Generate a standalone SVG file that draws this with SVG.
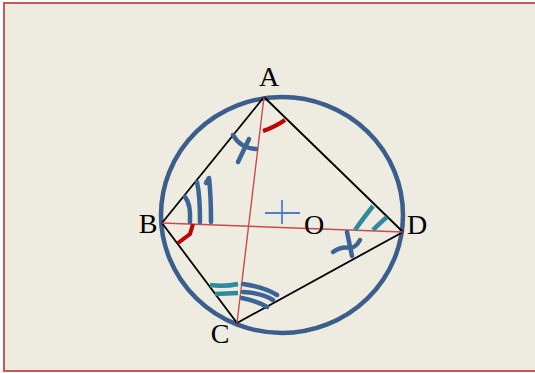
<svg xmlns="http://www.w3.org/2000/svg" width="535" height="373" viewBox="0 0 535 373">
<style>
.lbl{font-family:"Liberation Serif","Times New Roman",serif;font-size:28px;fill:#000;text-anchor:middle}
.edge{stroke:#000;stroke-width:1.8;fill:none}
.diag{stroke:#c84c4c;stroke-width:1.4;fill:none}
.blue{stroke:#3c6494;stroke-width:4.5;fill:none;stroke-linecap:round;stroke-linejoin:round}
.teal{stroke:#2f8a9c;stroke-width:4.5;fill:none;stroke-linecap:butt}
.red{stroke:#c00000;stroke-width:4;fill:none}
</style>
<rect x="4" y="3" width="540" height="368" fill="#eeebe0" stroke="#c8585a" stroke-width="2"/>
<g id="circle">
<ellipse cx="282" cy="215" rx="121" ry="118" fill="none" stroke="#3b5e8c" stroke-width="4.5"/>
</g>
<g id="center-mark">
<line x1="265" y1="213" x2="300" y2="213" stroke="#4a80c8" stroke-width="1.8"/>
<line x1="282" y1="200" x2="282" y2="224" stroke="#4a80c8" stroke-width="1.8"/>
</g>
<g id="connectors">
<line class="edge" x1="264" y1="97" x2="162" y2="223"/>
<line class="edge" x1="264" y1="97" x2="403" y2="232"/>
<line class="edge" x1="162" y1="223" x2="237" y2="323"/>
<line class="edge" x1="237" y1="323" x2="403" y2="232"/>
<line class="diag" x1="264" y1="97" x2="237" y2="323"/>
<line class="diag" x1="162" y1="223" x2="403" y2="232"/>
</g>
<g id="marks">
<path class="red" d="M263,131 Q275,127 285,120"/>
<path class="red" d="M193,224 L190,234 L178,243"/>
<path class="blue" d="M233,135 Q240,148 256,149"/>
<path class="blue" d="M249,139 L238,162"/>
<path class="blue" d="M185,197 Q191,204 190,222"/>
<path class="blue" d="M197,182 Q200,195 200,222"/>
<path class="blue" d="M206,183 L209,178 Q211,195 211,222"/>
<path class="teal" d="M210,285 Q224,287 238,284"/>
<path class="teal" d="M215,294 L238,293"/>
<path class="blue" d="M243,284 Q264,287 277,295"/>
<path class="blue" d="M243,292 Q262,293 273,300"/>
<path class="blue" d="M242,298 Q257,301 267,307"/>
<path class="teal" d="M355,230 Q362,220 373,206"/>
<path class="teal" d="M373,230 Q381,222 387,217"/>
<path class="blue" d="M333,252 Q341,246 351,248 Q356,247 360,240"/>
<path class="blue" d="M347,232 L352,256"/>
</g>
<g id="A"><text class="lbl" x="269" y="86">A</text></g>
<g id="B"><text class="lbl" x="148" y="233">B</text></g>
<g id="C"><text class="lbl" x="220" y="343">C</text></g>
<g id="D"><text class="lbl" x="417" y="234">D</text></g>
<g id="O"><text class="lbl" x="314" y="234">O</text></g>
</svg>
